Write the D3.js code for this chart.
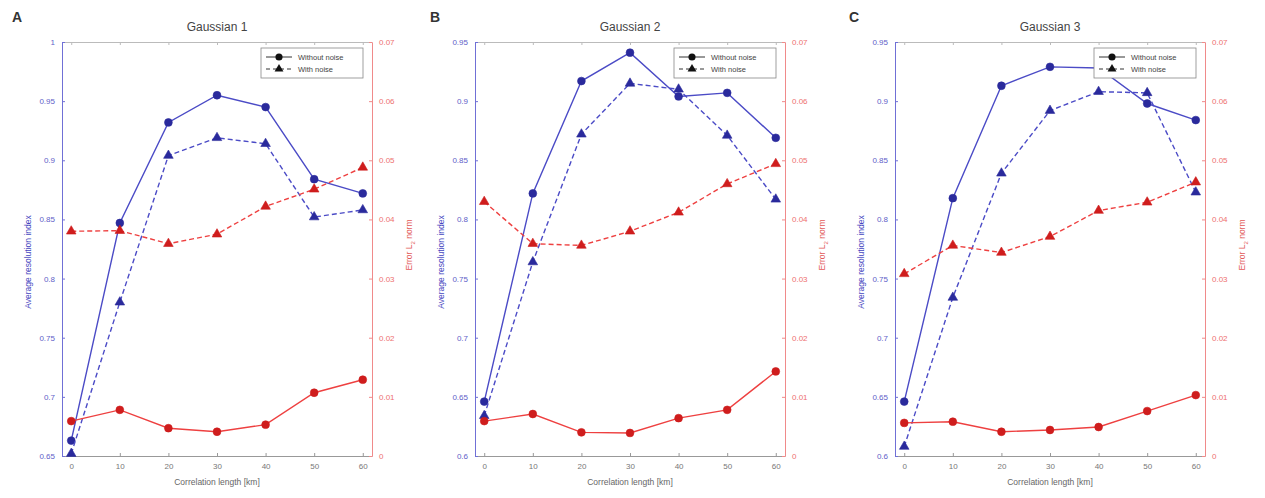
<!DOCTYPE html>
<html>
<head>
<meta charset="utf-8">
<script src="https://cdn.jsdelivr.net/npm/d3@7"></script>
<style>
  body { margin: 0; background: #fff; }
  text { font-family: "Liberation Sans", Arial, sans-serif; }
</style>
</head>
<body>
<div id="chart"></div>
<script>
// correlation length [km]
var corrLength = [0, 10, 20, 30, 40, 50, 60];
var xTicks = [0, 10, 20, 30, 40, 50, 60];

var titles = ["Gaussian 1", "Gaussian 2", "Gaussian 3"];
var letters = ["A", "B", "C"];

// average resolution index, left axis
var resNoNoise = [
    [0.663, 0.847, 0.932, 0.955, 0.945, 0.884, 0.872],
    [0.646, 0.822, 0.917, 0.941, 0.904, 0.907, 0.869],
    [0.646, 0.818, 0.913, 0.929, 0.928, 0.898, 0.884]
];
var resNoise = [
    [0.652, 0.780, 0.904, 0.919, 0.914, 0.852, 0.858],
    [0.634, 0.764, 0.872, 0.915, 0.910, 0.871, 0.817],
    [0.608, 0.734, 0.839, 0.892, 0.908, 0.907, 0.823]
];

// error L2 norm, right axis
var errNoNoise = [
    [0.0059, 0.0078, 0.0047, 0.0041, 0.0053, 0.0107, 0.0129],
    [0.0059, 0.0071, 0.0040, 0.0039, 0.0064, 0.0078, 0.0143],
    [0.0056, 0.0058, 0.0041, 0.0044, 0.0049, 0.0076, 0.0103]
];
var errNoise = [
    [0.0380, 0.0381, 0.0359, 0.0375, 0.0422, 0.0451, 0.0488],
    [0.0430, 0.0359, 0.0356, 0.0380, 0.0412, 0.0460, 0.0494],
    [0.0308, 0.0356, 0.0344, 0.0371, 0.0415, 0.0429, 0.0463]
];

var leftDomains = [[0.65, 1], [0.6, 0.95], [0.6, 0.95]];
var leftTicks = [
    [0.65, 0.7, 0.75, 0.8, 0.85, 0.9, 0.95, 1],
    [0.6, 0.65, 0.7, 0.75, 0.8, 0.85, 0.9, 0.95],
    [0.6, 0.65, 0.7, 0.75, 0.8, 0.85, 0.9, 0.95]
];
var rightTicks = [0, 0.01, 0.02, 0.03, 0.04, 0.05, 0.06, 0.07];

var legendLabels = ["Without noise", "With noise"];

var width = 1265, height = 498;
var panelLeft = [62, 475, 895];
var letterX = [12, 430, 849];
var panelW = 310;
var plotTop = 42, plotBottom = 456;

var blueLine = "#4b4bc6", blueMark = "#2a2a9c";
var redLine = "#ee4040", redMark = "#cf1d1d";
var blueAxis = "#7070d6", redAxis = "#f08a8a";

var svg = d3.select("#chart").append("svg")
    .attr("width", width)
    .attr("height", height);

function fmt(d) {
    return String(+d.toFixed(3));
}

for (var i = 0; i < 3; i++) {

    svg.append("text")
        .attr("x", letterX[i])
        .attr("y", 22)
        .attr("fill", "#333")
        .style("font-size", "14px")
        .style("font-weight", "bold")
        .text(letters[i]);

    var g = svg.append("g")
        .attr("transform", "translate(" + panelLeft[i] + ",0)");

    var x = d3.scaleLinear().domain([-1.9, 61.9]).range([0, panelW]);
    var yL = d3.scaleLinear().domain(leftDomains[i]).range([plotBottom, plotTop]);
    var yR = d3.scaleLinear().domain([0, 0.07]).range([plotBottom, plotTop]);

    // bottom axis
    var ax = g.append("g")
        .attr("transform", "translate(0," + plotBottom + ")")
        .call(d3.axisBottom(x).tickValues(xTicks).tickSizeInner(-3).tickSizeOuter(0).tickPadding(7));
    ax.select(".domain").attr("stroke", "#999");
    ax.selectAll(".tick line").attr("stroke", "#999");
    ax.selectAll("text").attr("fill", "#777").style("font-size", "8px");

    // top border
    var at = g.append("g")
        .attr("transform", "translate(0," + plotTop + ")")
        .call(d3.axisTop(x).tickValues(xTicks).tickSizeInner(-3).tickSizeOuter(0).tickFormat(""));
    at.select(".domain").attr("stroke", "#bbb");
    at.selectAll(".tick line").attr("stroke", "#bbb");

    // left axis
    var al = g.append("g")
        .call(d3.axisLeft(yL).tickValues(leftTicks[i]).tickSizeInner(-3).tickSizeOuter(0).tickPadding(7).tickFormat(fmt));
    al.select(".domain").attr("stroke", blueAxis);
    al.selectAll(".tick line").attr("stroke", blueAxis);
    al.selectAll("text").attr("fill", "#6060c8").style("font-size", "8px");

    // right axis
    var ar = g.append("g")
        .attr("transform", "translate(" + panelW + ",0)")
        .call(d3.axisRight(yR).tickValues(rightTicks).tickSizeInner(-3).tickSizeOuter(0).tickPadding(7).tickFormat(fmt));
    ar.select(".domain").attr("stroke", redAxis);
    ar.selectAll(".tick line").attr("stroke", redAxis);
    ar.selectAll("text").attr("fill", "#ee7070").style("font-size", "8px");

    // labels
    g.append("text")
        .attr("x", panelW / 2)
        .attr("y", 31)
        .attr("text-anchor", "middle")
        .attr("fill", "#444")
        .style("font-size", "12px")
        .text(titles[i]);

    g.append("text")
        .attr("x", panelW / 2)
        .attr("y", 485)
        .attr("text-anchor", "middle")
        .attr("fill", "#666")
        .style("font-size", "8.5px")
        .text("Correlation length [km]");

    g.append("text")
        .attr("transform", "translate(-31,262) rotate(-90)")
        .attr("text-anchor", "middle")
        .attr("fill", "#4545c0")
        .style("font-size", "8.5px")
        .text("Average resolution index");

    var el = g.append("text")
        .attr("transform", "translate(" + (panelW + 40) + ",245) rotate(-90)")
        .attr("text-anchor", "middle")
        .attr("fill", "#e35a5a")
        .style("font-size", "8.5px");
    el.append("tspan").text("Error L");
    el.append("tspan").attr("dy", 3).style("font-size", "6px").text("2");
    el.append("tspan").attr("dy", -3).text(" norm");

    // lines
    var series = [
        { v: resNoNoise[i], y: yL, c: blueLine, m: blueMark, dash: null, shape: "circle" },
        { v: resNoise[i], y: yL, c: blueLine, m: blueMark, dash: "5,3", shape: "triangle" },
        { v: errNoNoise[i], y: yR, c: redLine, m: redMark, dash: null, shape: "circle" },
        { v: errNoise[i], y: yR, c: redLine, m: redMark, dash: "5,3", shape: "triangle" }
    ];

    series.forEach(function(s) {
        var line = d3.line()
            .x(function(d, k) { return x(corrLength[k]); })
            .y(function(d) { return s.y(d); });

        g.append("path")
            .datum(s.v)
            .attr("d", line)
            .attr("fill", "none")
            .attr("stroke", s.c)
            .attr("stroke-width", 1.4)
            .attr("stroke-dasharray", s.dash);

        var sym = d3.symbol()
            .type(s.shape == "circle" ? d3.symbolCircle : d3.symbolTriangle)
            .size(s.shape == "circle" ? 48 : 40);

        g.selectAll(null)
            .data(s.v)
            .enter().append("path")
            .attr("d", sym)
            .attr("transform", function(d, k) { return "translate(" + x(corrLength[k]) + "," + s.y(d) + ")"; })
            .attr("fill", s.m)
            .attr("stroke", s.m)
            .attr("stroke-width", 0.6);
    });

    // legend
    var lg = g.append("g")
        .attr("transform", "translate(" + (panelW - 111) + ",48)");
    lg.append("rect")
        .attr("width", 102)
        .attr("height", 30)
        .attr("fill", "#fff")
        .attr("stroke", "#888")
        .attr("stroke-width", 0.8);
    for (var k = 0; k < 2; k++) {
        var ly = 9 + k * 12;
        lg.append("line")
            .attr("x1", 5).attr("x2", 31)
            .attr("y1", ly).attr("y2", ly)
            .attr("stroke", "#333")
            .attr("stroke-width", 1)
            .attr("stroke-dasharray", k == 0 ? null : "4,3");
        lg.append("path")
            .attr("d", d3.symbol().type(k == 0 ? d3.symbolCircle : d3.symbolTriangle).size(k == 0 ? 40 : 34))
            .attr("transform", "translate(18," + ly + ")")
            .attr("fill", "#111");
        lg.append("text")
            .attr("x", 37)
            .attr("y", ly + 3)
            .attr("fill", "#444")
            .style("font-size", "7.5px")
            .text(legendLabels[k]);
    }
}
</script>
</body>
</html>
